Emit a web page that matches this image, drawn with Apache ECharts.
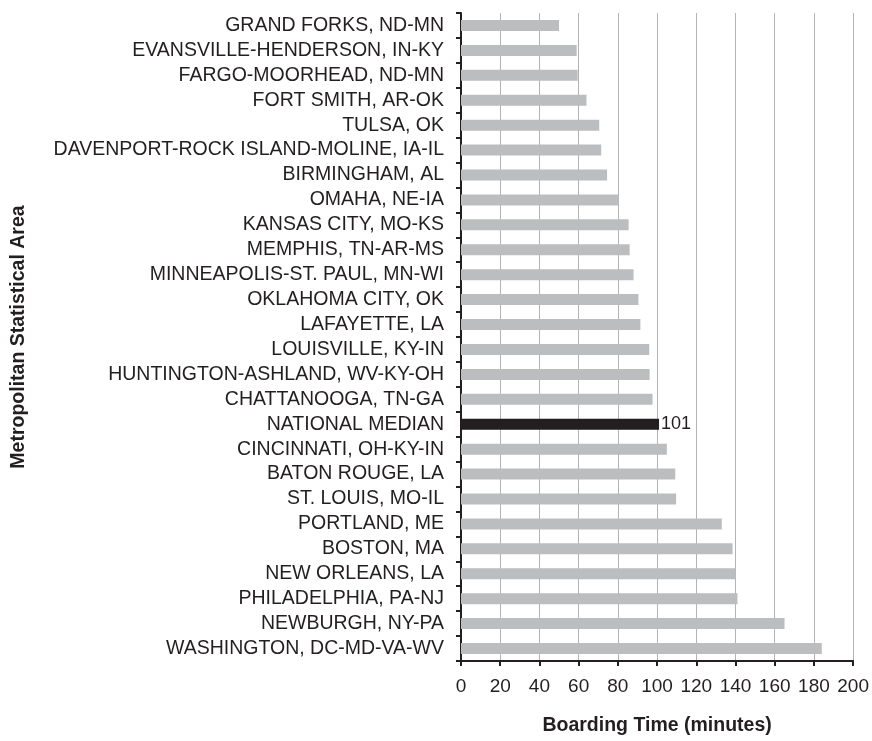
<!DOCTYPE html>
<html>
<head>
<meta charset="utf-8">
<script src="https://cdn.jsdelivr.net/npm/echarts@6/dist/echarts.min.js"></script>
<style>
html,body{margin:0;padding:0;background:#fff;}
#chart{width:872px;height:741px;}
</style>
</head>
<body>
<div id="chart"></div>
<script>
const categories = [
  "GRAND FORKS, ND-MN",
  "EVANSVILLE-HENDERSON, IN-KY",
  "FARGO-MOORHEAD, ND-MN",
  "FORT SMITH, AR-OK",
  "TULSA, OK",
  "DAVENPORT-ROCK ISLAND-MOLINE, IA-IL",
  "BIRMINGHAM, AL",
  "OMAHA, NE-IA",
  "KANSAS CITY, MO-KS",
  "MEMPHIS, TN-AR-MS",
  "MINNEAPOLIS-ST. PAUL, MN-WI",
  "OKLAHOMA CITY, OK",
  "LAFAYETTE, LA",
  "LOUISVILLE, KY-IN",
  "HUNTINGTON-ASHLAND, WV-KY-OH",
  "CHATTANOOGA, TN-GA",
  "NATIONAL MEDIAN",
  "CINCINNATI, OH-KY-IN",
  "BATON ROUGE, LA",
  "ST. LOUIS, MO-IL",
  "PORTLAND, ME",
  "BOSTON, MA",
  "NEW ORLEANS, LA",
  "PHILADELPHIA, PA-NJ",
  "NEWBURGH, NY-PA",
  "WASHINGTON, DC-MD-VA-WV"
];
const boardingTime = [50, 59, 59.5, 64, 70.5, 71.5, 74.5, 80.5, 85.5, 86, 88, 90.5, 91.5, 96, 96.2, 97.7, 101, 105, 109.3, 109.7, 133, 138.5, 140, 141, 165, 184];
const highlightCategory = "NATIONAL MEDIAN";
const xTicks = { min: 0, max: 200, interval: 20 };
const xTitle = "Boarding Time (minutes)";
const yTitle = "Metropolitan Statistical Area";

const textColor = "#231f20";
const chart = echarts.init(document.getElementById('chart'), null, {renderer: 'canvas'});
const data = boardingTime.map((v, i) => {
  if (categories[i] === highlightCategory) {
    return {
      value: v,
      itemStyle: {color: '#231f20', borderColor: '#231f20', borderWidth: 1.5},
      label: {show: true, position: 'right', distance: 2, formatter: '{c}', fontSize: 18,
              fontFamily: 'Liberation Sans, Arial, sans-serif', color: textColor}
    };
  }
  return v;
});
chart.setOption({
  animation: false,
  backgroundColor: '#ffffff',
  grid: {left: 461, right: 16, top: 13, bottom: 73, containLabel: false},
  xAxis: {
    type: 'value', min: xTicks.min, max: xTicks.max, interval: xTicks.interval,
    name: xTitle, nameLocation: 'middle', nameGap: 55,
    nameTextStyle: {fontSize: 19.5, fontWeight: 'bold', color: textColor, fontFamily: 'Liberation Sans, Arial, sans-serif'},
    axisLine: {show: true, lineStyle: {color: textColor, width: 2}},
    axisTick: {show: true, length: 5, lineStyle: {color: textColor, width: 2}},
    axisLabel: {fontSize: 19, color: textColor, margin: 16, fontFamily: 'Liberation Sans, Arial, sans-serif'},
    splitLine: {show: true, lineStyle: {color: '#b3b3b3', width: 1}}
  },
  yAxis: {
    type: 'category', data: categories, inverse: true,
    name: yTitle, nameLocation: 'middle', nameGap: 432, nameRotate: 90,
    nameTextStyle: {fontSize: 19.5, fontWeight: 'bold', color: textColor, fontFamily: 'Liberation Sans, Arial, sans-serif'},
    axisLine: {show: true, lineStyle: {color: textColor, width: 2}},
    axisTick: {show: true, length: 5, alignWithLabel: false, interval: 0, lineStyle: {color: textColor, width: 2}},
    axisLabel: {fontSize: 19.5, color: textColor, margin: 17, interval: 0, fontFamily: 'Liberation Sans, Arial, sans-serif'},
    splitLine: {show: false}
  },
  series: [{
    type: 'bar',
    data: data,
    barWidth: 11,
    itemStyle: {color: '#bcbdbf'},
    silent: true
  }]
});
</script>
</body>
</html>
